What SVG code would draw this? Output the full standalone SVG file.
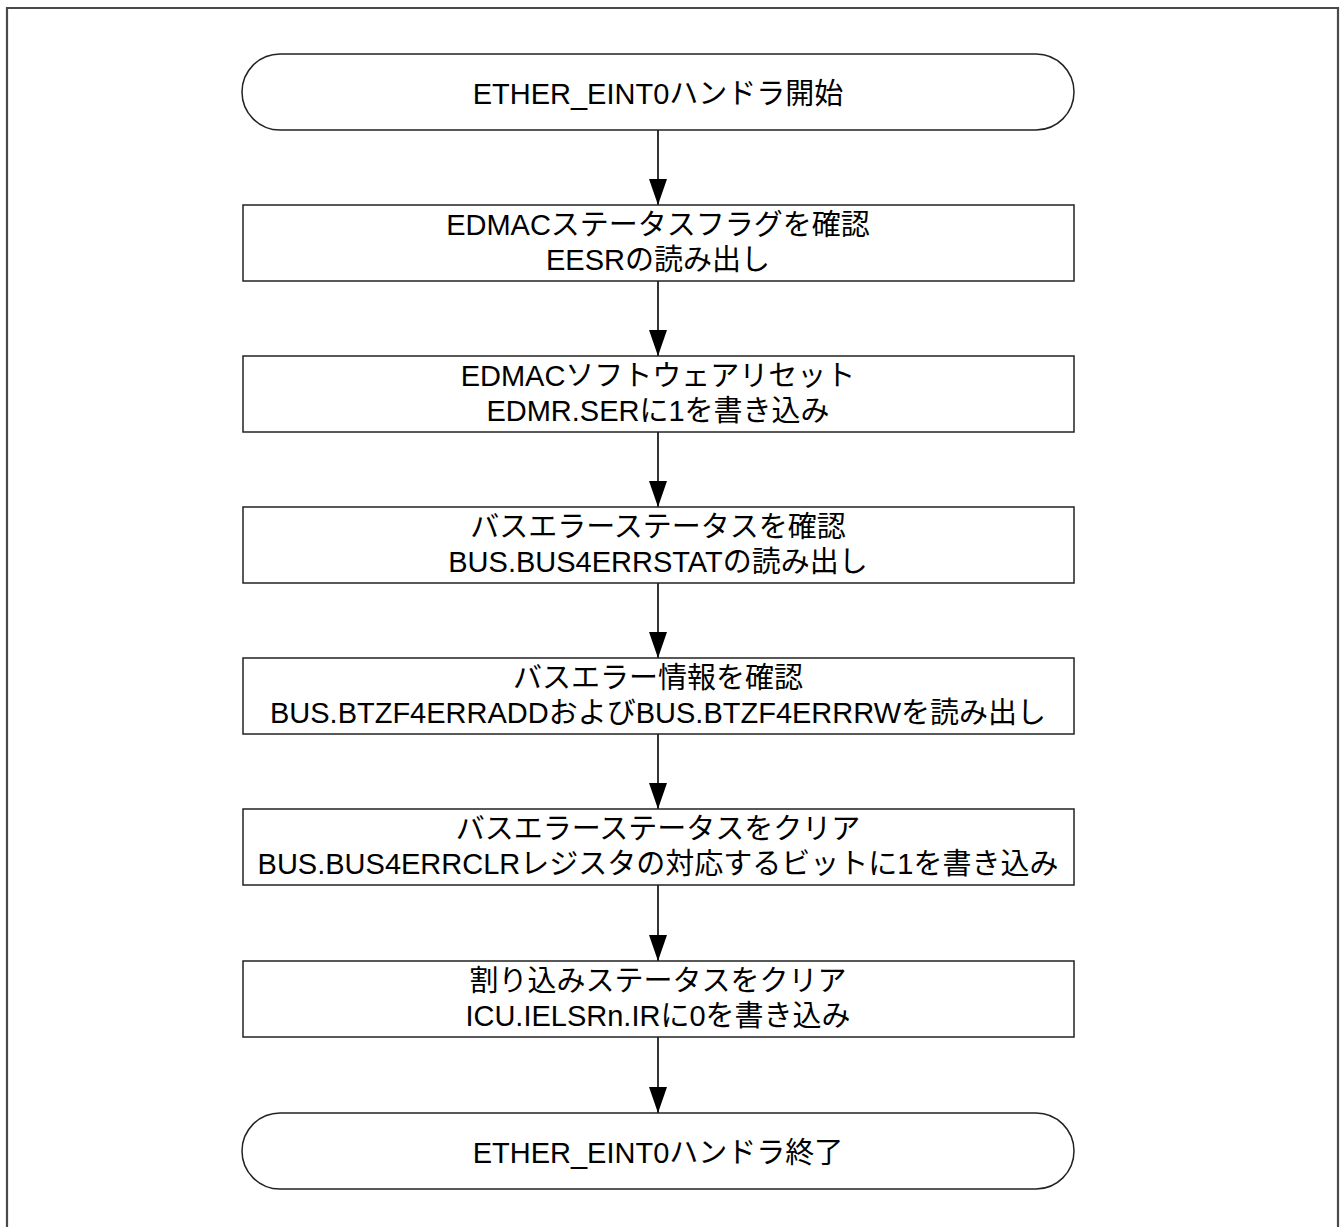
<svg xmlns="http://www.w3.org/2000/svg" width="1343" height="1227" viewBox="0 0 1343 1227">
<style>
.b{fill:#fff;stroke:#222;stroke-width:1.5}
.t{font-family:"Liberation Sans","Noto Sans CJK JP",sans-serif;font-size:29px;fill:#000;text-anchor:middle}
.c{stroke:#000;stroke-width:1.6;fill:none}
</style>
<defs>
<marker id="ah" markerUnits="userSpaceOnUse" markerWidth="27" markerHeight="18" refX="26" refY="9" orient="auto" viewBox="0 0 27 18">
<path d="M0,0 L26,9 L0,18 Z" fill="#000"/>
</marker>
</defs>
<rect width="1343" height="1227" fill="#fff"/>
<path d="M7,1227 V8 H1338 V1227" fill="none" stroke="#4a4a4a" stroke-width="2.2"/>
<g id="connectors">
<line class="c" x1="658" y1="130" x2="658" y2="205" marker-end="url(#ah)"/>
<line class="c" x1="658" y1="281" x2="658" y2="356" marker-end="url(#ah)"/>
<line class="c" x1="658" y1="432" x2="658" y2="507" marker-end="url(#ah)"/>
<line class="c" x1="658" y1="583" x2="658" y2="658" marker-end="url(#ah)"/>
<line class="c" x1="658" y1="734" x2="658" y2="809" marker-end="url(#ah)"/>
<line class="c" x1="658" y1="885" x2="658" y2="961" marker-end="url(#ah)"/>
<line class="c" x1="658" y1="1037" x2="658" y2="1113" marker-end="url(#ah)"/>
</g>
<g id="start">
<rect class="b" x="242" y="54" width="832" height="76" rx="38" ry="38"/>
<text class="t" x="658" y="104">ETHER_EINT0ハンドラ開始</text>
</g>
<g id="n1">
<rect class="b" x="243" y="205" width="831" height="76"/>
<text class="t" x="658" y="235">EDMACステータスフラグを確認</text>
<text class="t" x="658" y="270">EESRの読み出し</text>
</g>
<g id="n2">
<rect class="b" x="243" y="356" width="831" height="76"/>
<text class="t" x="658" y="386">EDMACソフトウェアリセット</text>
<text class="t" x="658" y="421">EDMR.SERに1を書き込み</text>
</g>
<g id="n3">
<rect class="b" x="243" y="507" width="831" height="76"/>
<text class="t" x="658" y="537">バスエラーステータスを確認</text>
<text class="t" x="658" y="572">BUS.BUS4ERRSTATの読み出し</text>
</g>
<g id="n4">
<rect class="b" x="243" y="658" width="831" height="76"/>
<text class="t" x="658" y="688">バスエラー情報を確認</text>
<text class="t" x="658" y="723">BUS.BTZF4ERRADDおよびBUS.BTZF4ERRRWを読み出し</text>
</g>
<g id="n5">
<rect class="b" x="243" y="809" width="831" height="76"/>
<text class="t" x="658" y="839">バスエラーステータスをクリア</text>
<text class="t" x="658" y="874">BUS.BUS4ERRCLRレジスタの対応するビットに1を書き込み</text>
</g>
<g id="n6">
<rect class="b" x="243" y="961" width="831" height="76"/>
<text class="t" x="658" y="991">割り込みステータスをクリア</text>
<text class="t" x="658" y="1026">ICU.IELSRn.IRに0を書き込み</text>
</g>
<g id="end">
<rect class="b" x="242" y="1113" width="832" height="76" rx="38" ry="38"/>
<text class="t" x="658" y="1163">ETHER_EINT0ハンドラ終了</text>
</g>
</svg>
